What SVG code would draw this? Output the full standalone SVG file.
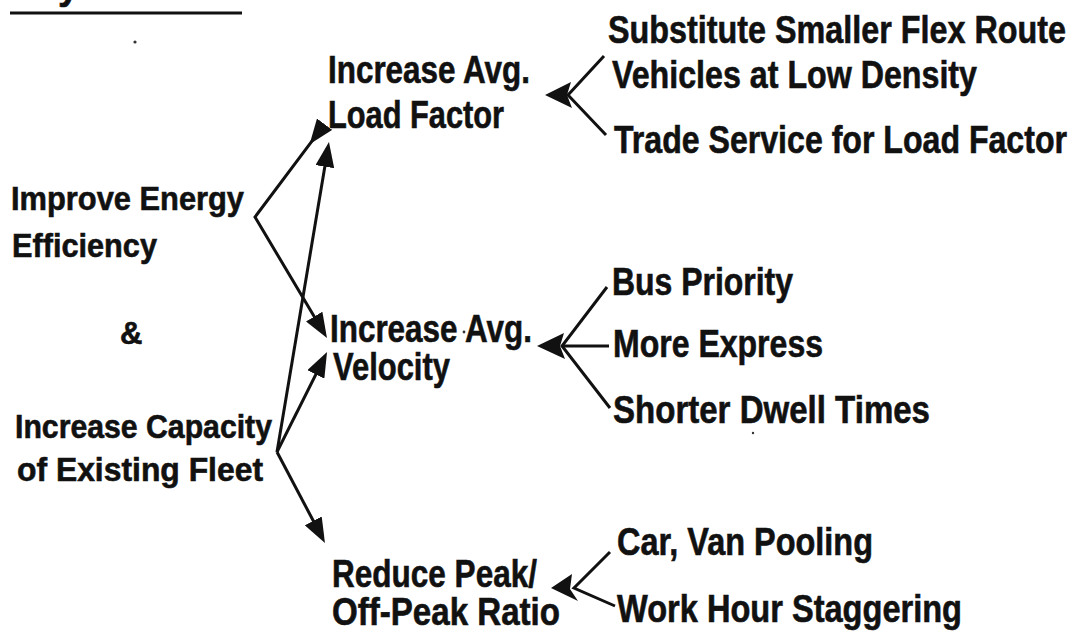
<svg xmlns="http://www.w3.org/2000/svg" width="1076" height="631" viewBox="0 0 1076 631">
  <style>
    .t { font-family: "Liberation Sans", Arial, sans-serif; font-weight: bold; fill: #111; stroke: #111; stroke-width: 0.6; }
    .m { font-size: 38px; }
    .s { font-size: 33px; }
    .ln { stroke: #111; stroke-width: 3; fill: none; stroke-linecap: butt; stroke-linejoin: miter; }
    .hd { fill: #111; }
    .speck { fill: #333; }
  </style>
  <defs>
    <marker id="head" markerUnits="userSpaceOnUse" markerWidth="25" markerHeight="19" refX="18" refY="9.5" orient="auto" viewBox="0 0 25 19">
      <path d="M0,0 L25,9.5 L0,19 Z" fill="#111"/>
    </marker>
  </defs>
  <rect width="1076" height="631" fill="#fff"/>

  <!-- heading: only the tail of its last letter and the rule beneath it fall inside the sheet -->
  <g id="heading">
    <text class="t" x="58" y="-1" style="font-size:38px">y</text>
    <line x1="10" y1="13" x2="242" y2="13" stroke="#111" stroke-width="3"/>
  </g>

  <g id="specks">
    <circle class="speck" cx="135" cy="42" r="1.6"/>
    <circle class="speck" cx="464" cy="332" r="1.4"/>
    <circle class="speck" cx="753" cy="433" r="1.2"/>
  </g>

  <!-- goals -->
  <g id="goal-energy">
    <text class="t s" x="11" y="210" textLength="233" lengthAdjust="spacingAndGlyphs">Improve Energy</text>
    <text class="t s" x="12" y="257" textLength="145" lengthAdjust="spacingAndGlyphs">Efficiency</text>
  </g>
  <g id="goal-and">
    <text class="t" x="120" y="344" style="font-size:31px">&amp;</text>
  </g>
  <g id="goal-capacity">
    <text class="t s" x="15" y="438" textLength="257" lengthAdjust="spacingAndGlyphs">Increase Capacity</text>
    <text class="t s" x="17" y="481" textLength="246" lengthAdjust="spacingAndGlyphs">of Existing Fleet</text>
  </g>

  <!-- measures -->
  <g id="load-factor">
    <text class="t m" x="328" y="83" textLength="202" lengthAdjust="spacingAndGlyphs">Increase Avg.</text>
    <text class="t m" x="328" y="128" textLength="176" lengthAdjust="spacingAndGlyphs">Load Factor</text>
  </g>
  <g id="velocity">
    <text class="t m" x="330" y="342" textLength="202" lengthAdjust="spacingAndGlyphs">Increase Avg.</text>
    <text class="t m" x="333" y="380" textLength="117" lengthAdjust="spacingAndGlyphs">Velocity</text>
  </g>
  <g id="peak-ratio">
    <text class="t m" x="332" y="587" textLength="205" lengthAdjust="spacingAndGlyphs">Reduce Peak/</text>
    <text class="t m" x="332" y="625" textLength="228" lengthAdjust="spacingAndGlyphs">Off-Peak Ratio</text>
  </g>

  <!-- actions -->
  <g id="flex-route">
    <text class="t m" x="608" y="43" textLength="458" lengthAdjust="spacingAndGlyphs">Substitute Smaller Flex Route</text>
    <text class="t m" x="612" y="88" textLength="365" lengthAdjust="spacingAndGlyphs">Vehicles at Low Density</text>
  </g>
  <g id="trade-service">
    <text class="t m" x="614" y="153" textLength="453" lengthAdjust="spacingAndGlyphs">Trade Service for Load Factor</text>
  </g>
  <g id="bus-priority">
    <text class="t m" x="612" y="295" textLength="181" lengthAdjust="spacingAndGlyphs">Bus Priority</text>
  </g>
  <g id="more-express">
    <text class="t m" x="613" y="357" textLength="210" lengthAdjust="spacingAndGlyphs">More Express</text>
  </g>
  <g id="dwell-times">
    <text class="t m" x="613" y="423" textLength="317" lengthAdjust="spacingAndGlyphs">Shorter Dwell Times</text>
  </g>
  <g id="pooling">
    <text class="t m" x="617" y="555" textLength="256" lengthAdjust="spacingAndGlyphs">Car, Van Pooling</text>
  </g>
  <g id="staggering">
    <text class="t m" x="617" y="622" textLength="345" lengthAdjust="spacingAndGlyphs">Work Hour Staggering</text>
  </g>

  <g id="connectors">
    <!-- goal fans (line ends sit 7px short of each arrow tip) -->
    <polyline class="ln" points="313.8,138.6 255,217 323.4,332" marker-start="url(#head)" marker-end="url(#head)"/>
    <line class="ln" x1="277" y1="452" x2="327.8" y2="148.9" marker-end="url(#head)"/>
    <line class="ln" x1="277" y1="452" x2="323.9" y2="358.3" marker-end="url(#head)"/>
    <line class="ln" x1="277" y1="452" x2="321.7" y2="536.8" marker-end="url(#head)"/>

    <!-- action fans converging on each measure -->
    <polyline class="ln" points="604,56 568,95 606,135"/>
    <polygon class="hd" points="545,95 571,82 567,95 572,108"/>

    <polyline class="ln" points="607,287 562,346 610,408"/>
    <line class="ln" x1="562" y1="346" x2="609" y2="346"/>
    <polygon class="hd" points="537,346 564,333 560,346 565,359"/>

    <polyline class="ln" points="610,552 574,588 615,606"/>
    <polygon class="hd" points="551,588 572,574 570,589 578,601"/>
  </g>
</svg>
